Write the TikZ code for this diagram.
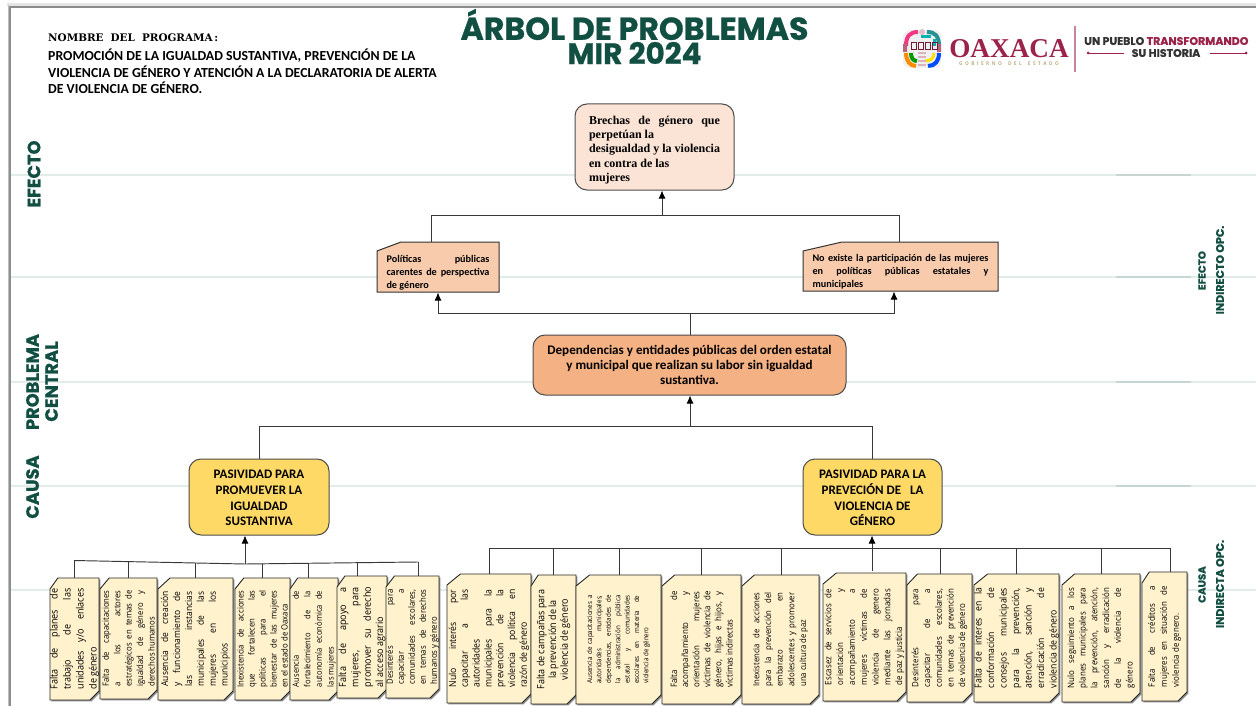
\documentclass[tikz,border=0pt]{standalone}
\usepackage{graphicx}
\usepackage{fontspec}
\setmainfont{Carlito}
\newfontfamily\headf[BoldFeatures={FakeBold=0.8}]{Poppins}
\newfontfamily\boxf[FakeStretch=0.9]{Open Sans}
\newfontfamily\timesf{Liberation Serif}
\newfontfamily\slabf{DejaVu Serif}
\usetikzlibrary{arrows.meta,calc}
\definecolor{tgreen}{HTML}{124F43}
\definecolor{rule}{HTML}{E2ECE9}
\definecolor{ruled}{HTML}{C6D6D2}
\definecolor{cream}{HTML}{FFF2CC}
\definecolor{wine}{HTML}{9B2248}
\definecolor{tan}{HTML}{BFAE7E}
\definecolor{fefecto}{HTML}{FBE3D6}
\definecolor{fsec}{HTML}{F8CBAD}
\definecolor{fcen}{HTML}{F4B183}
\definecolor{fcau}{HTML}{FFD966}
\tikzset{
  conn/.style={draw=black!78,line width=.95pt},
  arr/.style={conn,-{Latex[length=8pt,width=7pt,black]}},
  band/.style={rule,line width=1.4pt},
  snipline/.style={draw=black!85,line width=.9pt,fill=cream},
  snipshadow/.style={fill=black!45},
  rbox/.style={draw=black!70,line width=1pt,rounded corners=12pt,inner sep=0},
  lab/.style={inner sep=0,text=tgreen,font=\headf\bfseries},
  plain/.style={inner sep=0,text=black},
}
\newcommand{\fs}[2]{\fontsize{#1pt}{#2pt}\selectfont}
\newcommand{\gp}{\hspace{2.5pt}}
% name x1 y1 x2 y2 fontsize leading textwidth text
\newcommand{\snip}[9]{%
  \pgfmathsetmacro{\cutx}{0.16*(#4-#2)}
  \fill[snipshadow,shift={(1.4,1.4)}] (#2+\cutx,#3) -- (#4,#3) -- (#4,#5-9) -- (#4-9,#5) -- (#2,#5) -- (#2,#3+11) -- cycle;
  \path[snipline] (#2+\cutx,#3) -- (#4,#3) -- (#4,#5-9) -- (#4-9,#5) -- (#2,#5) -- (#2,#3+11) -- cycle;
  \pgfmathsetmacro{\mx}{(#2+#4)/2}
  \pgfmathsetmacro{\my}{(#3+#5)/2}
  \pgfmathsetmacro{\bw}{#4-#2}
  \pgfmathsetmacro{\bh}{#5-#3}
  \node[plain,minimum width=\bw pt,minimum height=\bh pt] (#1) at (\mx,\my)
    {\rotatebox{90}{\parbox{#8pt}{\boxf\fs{#6}{#7}\hyphenpenalty=10000 \sloppy #9}}};
}
\begin{document}
\begin{tikzpicture}[x=1pt,y=-1pt]
\useasboundingbox (0,0) rectangle (1256,706);
\fill[white] (0,0) rectangle (1256,706);
% page frame
\fill[black!10] (7,3) rectangle (1256,6);
\draw[black!45,line width=1.2pt] (10,706) -- (10,7) -- (1256,7);
\draw[black!25,line width=.8pt] (8.3,706) -- (8.3,5);
% bands
\foreach \yy in {175,277,382,486,590} \draw[band] (11,\yy) -- (1256,\yy);
\foreach \yy in {175,277,382,486} \draw[ruled,line width=1.4pt] (1116,\yy) -- (1191,\yy);

% title
\node[lab,font=\headf\bfseries\fs{31.6}{31}] (t1) at (634.5,24.5) {ÁRBOL DE PROBLEMAS};
\node[lab,font=\headf\bfseries\fs{29.5}{29}] (t2) at (634.5,53) {MIR 2024};

% program name
\node[plain,anchor=west,font=\slabf\bfseries\fs{10.4}{12}] (pn) at (48,38) {NOMBRE\,\, DEL\,\, PROGRAMA\,:};
\node[plain,anchor=west,font=\bfseries\fs{13.8}{16}] (p1) at (48,56) {PROMOCIÓN DE LA IGUALDAD SUSTANTIVA, PREVENCIÓN DE LA};
\node[plain,anchor=west,font=\bfseries\fs{13.8}{16}] (p2) at (48,72) {VIOLENCIA DE GÉNERO Y ATENCIÓN A LA DECLARATORIA DE ALERTA};
\node[plain,anchor=west,font=\bfseries\fs{13.8}{16}] (p3) at (48,88) {DE VIOLENCIA DE GÉNERO.};

% logo
\fill[white!94!black,rounded corners=7pt] (903,30) rectangle (941,68);
\draw[line width=4pt,color=magenta!70!red!80,line cap=butt] (906,46) .. controls (906,36) and (910,32) .. (918,32);
\draw[line width=4pt,color=teal!85] (927,32) .. controls (935,32) and (939,36) .. (939,46);
\draw[line width=3pt,color=teal!60!cyan] (921,37) -- (931,37) (934,39) -- (934,46);
\draw[line width=4pt,color=orange!90!yellow] (906,53) .. controls (906,61) and (910,66) .. (916,66);
\draw[line width=4pt,color=green!60!black] (911,53) .. controls (911,58) and (913,61) .. (917,61);
\draw[line width=4pt,color=blue!70!cyan] (928,66) .. controls (935,66) and (939,61) .. (939,53);
\draw[line width=3pt,color=yellow!85!orange] (925,61) .. controls (931,61) and (934,58) .. (934,53);
\foreach \yy in {53,57,61,65} \draw[wine!35,line width=1.6pt] (918,\yy) -- (926,\yy);
\fill[wine!70] (903,44) rectangle (907,52) (937,44) rectangle (941,52);
\foreach \xx in {911,918,925,932} \draw[wine!75!black,line width=.8pt] (\xx,42) rectangle ++(5,7);
\fill[wine!30] (922,32) circle (3pt);
\node[inner sep=0,text=wine,font=\timesf\bfseries\fs{27.2}{28}] (ox) at (1009,49) {OAXACA};
\node[inner sep=0,text=tan,font=\boxf\bfseries\fs{5.2}{5.5}] (go) at (1009,64) {G\gp O\gp B\gp I\gp E\gp R\gp N\gp O\gp\ \gp D\gp E\gp L\gp\ \gp E\gp S\gp T\gp A\gp D\gp O};
\draw[wine!55,line width=1.1pt] (1075,26) -- (1075,72);
\node[inner sep=0,anchor=west,font=\headf\bfseries\fs{11}{11}] (un) at (1084,41)
  {\textcolor{black!80}{UN PUEBLO }\textcolor{wine}{TRANSFORMANDO}};
\node[inner sep=0,font=\headf\bfseries\fs{11}{11},text=black!80] (su) at (1166,53) {SU HISTORIA};
\draw[wine,line width=.7pt] (1088,53) -- (1124,53);
\draw[wine,line width=.7pt] (1210,53) -- (1246,53);
\fill[wine] (1088,53) circle (1.5pt) (1246,53) circle (1.5pt);

% axis labels
\node[lab,rotate=90,font=\headf\bfseries\fs{17.8}{17}] (l1) at (34,174) {EFECTO};
\node[lab,rotate=90,font=\headf\bfseries\fs{17.8}{17}] (l2) at (32.5,382) {PROBLEMA};
\node[lab,rotate=90,font=\headf\bfseries\fs{17.8}{17}] (l3) at (51.5,381.5) {CENTRAL};
\node[lab,rotate=90,font=\headf\bfseries\fs{17.8}{17}] (l4) at (32.5,487) {CAUSA};
\node[lab,rotate=90,font=\headf\bfseries\fs{10.3}{10}] (r1) at (1202,270.5) {EFECTO};
\node[lab,rotate=90,font=\headf\bfseries\fs{11}{10}] (r2) at (1220,270) {INDIRECTO OPC.};
\node[lab,rotate=90,font=\headf\bfseries\fs{10.3}{10}] (r3) at (1202,584.5) {CAUSA};
\node[lab,rotate=90,font=\headf\bfseries\fs{11}{10}] (r4) at (1220,584) {INDIRECTA OPC.};

% main boxes
\node[rbox,fill=fefecto,minimum width=159pt,minimum height=86pt] (top) at (654.5,147)
 {\parbox{131pt}{\vspace{6pt}\timesf\bfseries\fs{12}{14.2}Brechas de género que\linebreak perpetúan la\par\noindent desigualdad y la violencia\par\noindent en contra de las\par\noindent mujeres}};
\node[rbox,fill=fcen,minimum width=313pt,minimum height=60pt] (cen) at (689.5,365)
 {\parbox{300pt}{\centering\bfseries\fs{13.1}{15.4}Dependencias y entidades públicas del orden estatal\\y municipal que realizan su labor sin igualdad\\sustantiva.}};
\node[rbox,fill=fcau,minimum width=140pt,minimum height=76pt] (cl) at (259,497)
 {\parbox{130pt}{\vspace{2pt}\centering\bfseries\fs{13}{15.6}PASIVIDAD PARA\\PROMUEVER LA\\IGUALDAD\\SUSTANTIVA}};
\node[rbox,fill=fcau,minimum width=139pt,minimum height=76pt] (cr) at (872.5,497)
 {\parbox{130pt}{\vspace{2pt}\centering\bfseries\fs{13}{15.6}PASIVIDAD PARA LA\\PREVECIÓN DE\ \ \ LA\\VIOLENCIA DE\\GÉNERO}};

% effect boxes
\path[fill=fsec,draw=black!80,line width=1pt] (377,251) -- (401,242) -- (499,242) -- (499,292) -- (377,292) -- cycle;
\node[plain,minimum width=122pt,minimum height=50pt] (ea) at (438,267)
 {\parbox{103pt}{\vspace{11pt}\bfseries\fs{10.2}{13}Políticas públicas\linebreak carentes de perspectiva de género}};
\path[fill=fsec,draw=black!80,line width=1pt] (803,251) -- (842,242) -- (998,242) -- (998,291) -- (803,291) -- cycle;
\node[plain,minimum width=195pt,minimum height=49pt] (eb) at (900.5,266.5)
 {\parbox{176pt}{\vspace{11pt}\bfseries\fs{10.2}{13}No existe la participación de las mujeres\linebreak en políticas públicas estatales y\linebreak municipales}};

% left causes
\snip{b1}{50}{578}{99}{700}{10}{13}{101}{Falta de planes de\linebreak trabajo de las\linebreak unidades y/o enlaces\linebreak de género}
\snip{b2}{100}{578}{157}{699}{8.6}{11.4}{96}{Falta de capacitaciones\linebreak a los actores\linebreak estratégicos en temas de\linebreak igualdad de género y\linebreak derechos humanos}
\snip{b3}{158}{578}{233}{700}{9.4}{11.9}{95}{Ausencia de creación\linebreak y funcionamiento de\linebreak las instancias\linebreak municipales de las\linebreak mujeres en los\linebreak municipios}
\snip{b4}{235}{578}{290}{700}{8.6}{11}{97}{Inexistencia de acciones\linebreak que fortalecen las\linebreak políticas para el\linebreak bienestar de las mujeres\linebreak en el estado de Oaxaca}
\snip{b5}{290}{578}{338}{700}{8.4}{11.6}{96}{Ausencia de\linebreak fortalecimiento de la\linebreak autonomía económica de\linebreak las mujeres}
\snip{b6}{337}{576}{387}{698}{10}{12.4}{100}{Falta de apoyo a\linebreak mujeres, para\linebreak promover su derecho\linebreak al acceso agrario}
\snip{b7}{386}{576}{439}{698}{8.6}{11}{95}{Desinterés para\linebreak capacitar a\linebreak comunidades escolares,\linebreak en temas de derechos\linebreak humanos y género}
% right causes
\snip{b8}{447}{574}{531}{703}{9.6}{11.8}{98}{Nulo interés por\linebreak capacitar a las\linebreak autoridades\par\noindent municipales para la\linebreak prevención de la\linebreak violencia política en\linebreak razón de género}
\snip{b9}{531}{575}{576}{704}{10}{11.7}{100}{\centering Falta de campañas para\\la prevención de la\\violencia de género}
\snip{b10}{576}{575}{661}{704}{6.9}{9.4}{88}{Ausencia de capacitaciones a\linebreak autoridades municipales,\linebreak dependencias, entidades de\linebreak la administración pública\linebreak estatal y comunidades\linebreak escolares en materia de\linebreak violencia de género}
\snip{b11}{662}{575}{741}{704}{8.8}{11.1}{96}{Falta de\linebreak acompañamiento y\linebreak orientación mujeres\linebreak víctimas de violencia de\linebreak género, hijas e hijos, y\linebreak víctimas indirectas}
\snip{b12}{742}{575}{819}{704}{8.6}{11.7}{94}{Inexistencia de acciones\linebreak para la prevención del\linebreak embarazo en\linebreak adolescentes y promover\linebreak una cultura de paz}
\snip{b13}{823}{573}{906}{701}{8.8}{11.8}{96}{Escasez de servicios de\linebreak orientación y\linebreak acompañamiento a\linebreak mujeres víctimas de\linebreak violencia de genero\linebreak mediante las jornadas\linebreak de paz y justicia}
\snip{b14}{907}{574}{972}{702}{8.8}{11.7}{98}{Desinterés para\linebreak capacitar de a\linebreak comunidades escolares,\linebreak en temas de prevención\linebreak de violencia de género}
\snip{b15}{974}{574}{1059}{702}{9.6}{12.5}{100}{Falta de interes en la\linebreak conformación de\linebreak consejos municipales\linebreak para la prevención,\linebreak atención, sanción y\linebreak erradicación de\linebreak violencia de género}
\snip{b16}{1062}{574}{1140}{702}{8.8}{11.7}{100}{Nulo seguimiento a los\linebreak planes municipales para\linebreak la prevención, atención,\linebreak sanción y erradicación\linebreak de la violencia de\linebreak género}
\snip{b17}{1142}{572}{1187}{701}{8.8}{12}{101}{Falta de créditos a\linebreak mujeres en situación de\linebreak violencia de genero.}

% connectors upper tree
\coordinate (jtop) at (662,215);
\draw[arr] (jtop) -- (jtop |- top.south);
\coordinate (ja) at (431,215);
\coordinate (jb) at (899,215);
\draw[conn] (ja |- ea.north) -- (ja) -- (jb) -- (jb |- eb.north);
\coordinate (jc) at (690,313);
\draw[conn] (jc |- cen.north) -- (jc);
\coordinate (je) at (438,292.5);
\coordinate (jf) at (894,291.5);
\draw[arr] (jc) -| (je);
\draw[arr] (jc) -| (jf);
\coordinate (jd) at (690,426);
\draw[arr] (jd) -- (jd |- cen.south);
\draw[conn] (cl.north) -- (cl.north |- jd) -- (cr.north |- jd) -- (cr.north);
% left bus
\coordinate (jl) at (245,564);
\draw[arr] (jl) -- (jl |- cl.south);
\coordinate (jl0) at (74,560.5);
\coordinate (jl1) at (418,562);
\draw[conn] (jl0) -- (jl) -- (jl1);
\foreach \xx/\yy/\nn in {74/561/b1,128/562/b2,195/563/b3,262/564/b4,308/563/b5,357/563/b6,418/562/b7}
  \draw[conn] (\xx,\yy) -- (\xx,0 |- \nn.north);
% right bus
\coordinate (jr) at (872,548);
\draw[arr] (jr) -- (jr |- cr.south);
\coordinate (jr0) at (489,548);
\coordinate (jr1) at (1170,548);
\draw[conn] (jr0) -- (jr1);
\foreach \xx/\nn in {489/b8,553/b9,619/b10,701/b11,781/b12,940/b14,1016/b15,1101/b16,1170/b17}
  \draw[conn] (\xx,548) -- (\xx,0 |- \nn.north);
\coordinate (jr2) at (872,571);
\draw[conn] (jr) -- (jr2);
\end{tikzpicture}
\end{document}
